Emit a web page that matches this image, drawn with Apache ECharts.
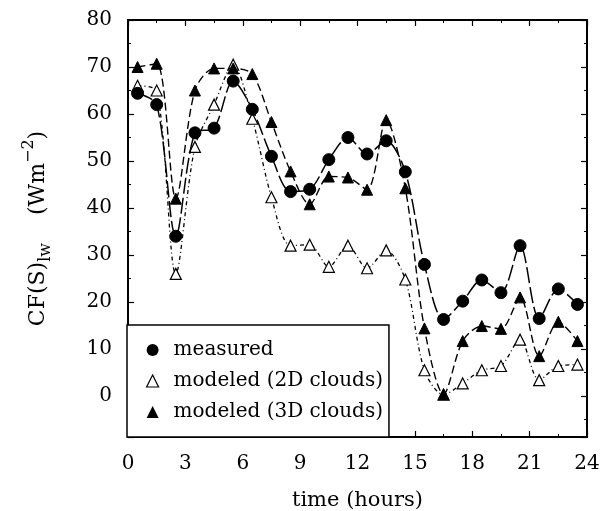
<!DOCTYPE html>
<html>
<head>
<meta charset="utf-8">
<script src="https://cdn.jsdelivr.net/npm/echarts@6/dist/echarts.min.js"></script>
<style>
  html, body { margin: 0; padding: 0; background: #fff; }
  #chart { width: 615px; height: 511px; }
</style>
</head>
<body>
<div id="chart"></div>
<script>
// time of each hourly value (hours)
const hours = [0.5, 1.5, 2.5, 3.5, 4.5, 5.5, 6.5, 7.5, 8.5, 9.5, 10.5, 11.5,
  12.5, 13.5, 14.5, 15.5, 16.5, 17.5, 18.5, 19.5, 20.5, 21.5, 22.5, 23.5]

// CF(S)lw values (W m-2)
const measured = [64.4, 62, 34, 56, 57, 67, 61, 51, 43.5, 44, 50.3, 55,
  51.5, 54.3, 47.7, 28, 16.3, 20.2, 24.7, 22, 32, 16.5, 22.8, 19.5]
const modeled2D = [66, 65, 26, 53, 62, 70.5, 59, 42.3, 32, 32.2, 27.5, 32,
  27.2, 31, 24.8, 5.5, 0.3, 2.7, 5.5, 6.4, 12, 3.4, 6.4, 6.7]
const modeled3D = [70, 70.7, 42, 65, 69.7, 69.7, 68.5, 58.3, 47.8, 40.8, 46.7, 46.5,
  43.9, 58.7, 44.2, 14.4, 0.4, 11.7, 14.9, 14.3, 21, 8.5, 15.8, 11.7]

const seriesNames = ['measured', 'modeled (2D clouds)', 'modeled (3D clouds)']
const xTicks = [0, 3, 6, 9, 12, 15, 18, 21, 24]

const font = 'DejaVu Serif'
const pairs = (ys) => hours.map((h, i) => [h, ys[i]])

const chart = echarts.init(document.getElementById('chart'))

const axisLine = { show: true, onZero: false, lineStyle: { color: '#000', width: 2 } }
const majorTick = { inside: true, length: 6, lineStyle: { color: '#000', width: 1.2 } }
const minorTick = { show: true, splitNumber: 2, length: 3, lineStyle: { color: '#000', width: 1 } }

const option = {
  animation: false,
  backgroundColor: '#fff',
  // keep the plot box fixed (v6 would otherwise shrink it for the outer labels)
  grid: { left: 128, right: 28, top: 20, bottom: 74, outerBoundsMode: 'none' },
  xAxis: [
    {
      type: 'value',
      min: 0,
      max: 24,
      interval: 3,
      position: 'bottom',
      name: 'time (hours)',
      nameLocation: 'middle',
      nameGap: 53,
      nameTextStyle: { fontFamily: font, fontSize: 21, color: '#000' },
      axisLine: axisLine,
      axisTick: majorTick,
      minorTick: minorTick,
      axisLabel: {
        margin: 17, fontFamily: font, fontSize: 20, color: '#000',
        formatter: (v) => (xTicks.includes(v) ? String(v) : '')
      },
      splitLine: { show: false }
    },
    {
      type: 'value',
      min: 0,
      max: 24,
      interval: 3,
      position: 'top',
      axisLine: axisLine,
      axisTick: majorTick,
      minorTick: minorTick,
      axisLabel: { show: false },
      splitLine: { show: false }
    }
  ],
  yAxis: [
    {
      type: 'value',
      min: -8.7,
      max: 80,
      splitNumber: 9,
      position: 'left',
      name: '{t|CF(S)}{sub|lw}{t|    (Wm}{sup|−2}{t|)}',
      nameLocation: 'middle',
      nameRotate: 90,
      nameGap: 72,
      nameTextStyle: {
        color: '#000',
        rich: {
          t: { fontFamily: font, fontSize: 22, color: '#000', lineHeight: 36, verticalAlign: 'middle' },
          sub: { fontFamily: font, fontSize: 16, color: '#000', lineHeight: 36, verticalAlign: 'bottom', padding: [0, 0, 2, 0] },
          sup: { fontFamily: font, fontSize: 16, color: '#000', lineHeight: 36, verticalAlign: 'top', padding: [1, 0, 0, 0] }
        }
      },
      axisLine: axisLine,
      axisTick: majorTick,
      minorTick: minorTick,
      axisLabel: {
        margin: 16, fontFamily: font, fontSize: 20, color: '#000',
        showMinLabel: false
      },
      splitLine: { show: false }
    },
    {
      type: 'value',
      min: -8.7,
      max: 80,
      splitNumber: 9,
      position: 'right',
      axisLine: axisLine,
      axisTick: majorTick,
      minorTick: minorTick,
      axisLabel: { show: false },
      splitLine: { show: false }
    }
  ],
  legend: {
    orient: 'vertical',
    left: 127,
    top: 325,
    padding: [15, 6, 15, 19],
    itemGap: 11,
    itemWidth: 12,
    itemHeight: 12,
    backgroundColor: '#fff',
    borderColor: '#000',
    borderWidth: 1.5,
    borderRadius: 0,
    textStyle: { fontFamily: font, fontSize: 20, color: '#000', lineHeight: 20, padding: [0, 0, 0, 10] },
    data: [
      { name: seriesNames[0], icon: 'circle', itemStyle: { color: '#000' } },
      { name: seriesNames[1], icon: 'triangle', itemStyle: { color: '#fff', borderColor: '#000', borderWidth: 1.2 } },
      { name: seriesNames[2], icon: 'triangle', itemStyle: { color: '#000' } }
    ]
  },
  series: [
    {
      name: seriesNames[1],
      type: 'line',
      data: pairs(modeled2D),
      smooth: 0.3,
      symbol: 'triangle',
      symbolSize: 11,
      itemStyle: { color: '#fff', borderColor: '#000', borderWidth: 1.2 },
      lineStyle: { color: '#000', width: 1.3, type: [4, 3, 1, 3] },
      z: 2
    },
    {
      name: seriesNames[2],
      type: 'line',
      data: pairs(modeled3D),
      smooth: 0.3,
      symbol: 'triangle',
      symbolSize: 11,
      itemStyle: { color: '#000', borderColor: '#000' },
      lineStyle: { color: '#000', width: 1.4, type: [8, 4] },
      z: 3
    },
    {
      name: seriesNames[0],
      type: 'line',
      data: pairs(measured),
      smooth: 0.3,
      symbol: 'circle',
      symbolSize: 12,
      itemStyle: { color: '#000', borderColor: '#000' },
      lineStyle: { color: '#000', width: 1.5, type: [16, 4] },
      z: 4
    }
  ]
}

chart.setOption(option)
</script>
</body>
</html>
